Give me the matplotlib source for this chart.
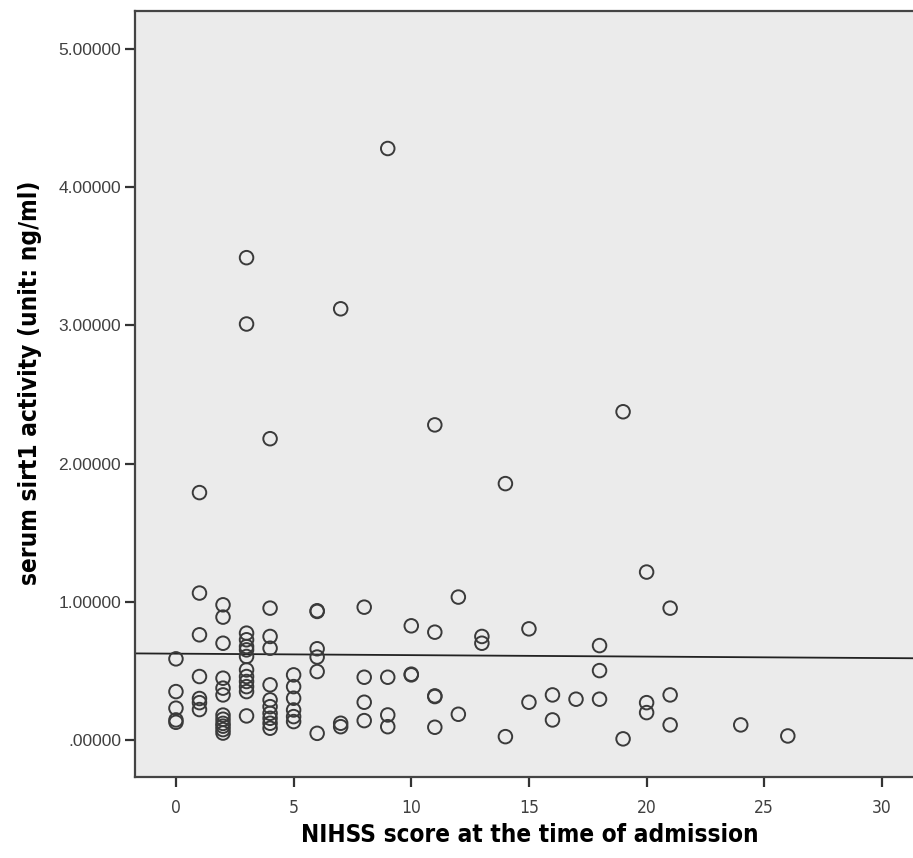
import matplotlib
matplotlib.use("Agg")
import matplotlib.pyplot as plt
import numpy as np

# NIHSS score (x) and serum sirt1 activity (y)
nihss = [0, 0, 0, 0, 0,
         1, 1, 1, 1, 1, 1, 1,
         2, 2, 2, 2, 2, 2, 2, 2, 2, 2, 2, 2,
         3, 3, 3, 3, 3, 3, 3, 3, 3, 3, 3, 3, 3,
         4, 4, 4, 4, 4, 4, 4, 4, 4, 4, 4,
         5, 5, 5, 5, 5, 5,
         6, 6, 6, 6, 6, 6,
         7, 7, 7,
         8, 8, 8, 8,
         9, 9, 9, 9,
         10, 10, 10,
         11, 11, 11, 11, 11,
         12, 12,
         13, 13,
         14, 14,
         15, 15,
         16, 16,
         17,
         18, 18, 18,
         19, 19,
         20, 20, 20,
         21, 21, 21,
         24,
         26]
sirt1 = [0.587, 0.35, 0.23, 0.145, 0.128,
         1.79, 1.063, 0.761, 0.459, 0.30, 0.27, 0.22,
         0.978, 0.889, 0.70, 0.447, 0.375, 0.326, 0.18, 0.15, 0.12, 0.10, 0.075, 0.05,
         3.49, 3.01, 0.773, 0.725, 0.676, 0.652, 0.604, 0.507, 0.459, 0.423, 0.386, 0.35, 0.174,
         2.18, 0.954, 0.749, 0.664, 0.399, 0.29, 0.241, 0.193, 0.157, 0.121, 0.085,
         0.471, 0.386, 0.302, 0.217, 0.169, 0.133,
         0.93, 0.935, 0.66, 0.60, 0.495, 0.048,
         3.12, 0.121, 0.096,
         0.961, 0.454, 0.273, 0.14,
         4.28, 0.454, 0.181, 0.096,
         0.826, 0.471, 0.476,
         2.28, 0.78, 0.314, 0.319, 0.092,
         1.034, 0.186,
         0.749, 0.70,
         1.855, 0.024,
         0.804, 0.273,
         0.326, 0.145,
         0.295,
         0.683, 0.502, 0.295,
         2.375, 0.008,
         1.215, 0.27, 0.198,
         0.954, 0.326, 0.109,
         0.109,
         0.029]

yticks = [0, 1, 2, 3, 4, 5]
ytick_labels = [".00000", "1.00000", "2.00000", "3.00000", "4.00000", "5.00000"]
xticks = [0, 5, 10, 15, 20, 25, 30]

fig = plt.figure(figsize=(9.13, 8.58), dpi=100)
ax = fig.add_axes([135 / 913, 81 / 858, 790 / 913, 766 / 858])
ax.set_facecolor("#ebebeb")

ax.scatter(nihss, sirt1, s=95, facecolors="none", edgecolors="#3a3a3a",
           linewidths=1.4, zorder=3)

# linear fit line across the whole x range
coef = np.polyfit(nihss, sirt1, 1)
xl = np.array([-1.74, 31.83])
ax.plot(xl, np.polyval(coef, xl), color="#222222", lw=1.3, zorder=2)

ax.set_xlim(-1.74, 31.83)
ax.set_ylim(-0.268, 5.275)
ax.set_xticks(xticks)
ax.set_yticks(yticks)
ax.set_yticklabels(ytick_labels)

for s in ax.spines.values():
    s.set_color("#444444")
    s.set_linewidth(1.6)
ax.spines["right"].set_visible(False)
ax.tick_params(direction="out", length=7, width=1.6, color="#333333",
               labelsize=12.5, labelcolor="#404040", pad=3)
for lab in ax.get_yticklabels():
    lab.set_family("Liberation Sans")
for lab in ax.get_xticklabels():
    lab.set_family("DejaVu Sans")
    lab.set_stretch("condensed")
ax.tick_params(axis="x", pad=9)

ax.set_xlabel("NIHSS score at the time of admission", fontsize=17.5,
              fontweight="bold", family="DejaVu Sans", fontstretch="condensed",
              labelpad=4)
ax.set_ylabel("serum sirt1 activity (unit: ng/ml)", fontsize=17.5,
              fontweight="bold", family="DejaVu Sans", fontstretch="condensed")
ax.yaxis.set_label_coords(-0.118, 0.515)

fig.savefig("out.png", dpi=100)
